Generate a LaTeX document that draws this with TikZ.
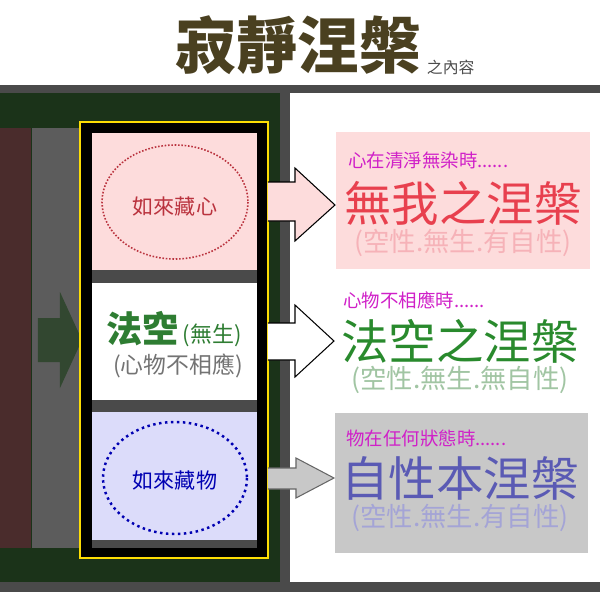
\documentclass[tikz,border=0pt]{standalone}
\usepackage{fontspec}
\newfontfamily\cjk{Noto Sans CJK TC}
\usetikzlibrary{positioning}
\definecolor{titlebrown}{HTML}{4A4020}
\definecolor{bandgray}{HTML}{4A4A4A}
\definecolor{darkgreen}{HTML}{1B3319}
\definecolor{brown}{HTML}{4A2C2C}
\definecolor{pinkbg}{HTML}{FDDCDC}
\definecolor{lavbg}{HTML}{DCDCFA}
\definecolor{boxgray}{HTML}{C8C8C8}
\definecolor{redtxt}{HTML}{E8404E}
\definecolor{greentxt}{HTML}{2E7D32}
\definecolor{bluetxt}{HTML}{5A5AB4}
\definecolor{magtxt}{HTML}{D020C8}
\tikzset{
  cjktext/.style={font=\cjk, inner sep=0pt},
  lead/.style={cjktext, font=\cjk\fontsize{10.5}{12}\selectfont, text=magtxt},
  big/.style={cjktext, font=\cjk\fontsize{27}{30}\selectfont},
  note/.style={cjktext, font=\cjk\fontsize{15}{17}\selectfont},
  block arrow/.style={draw=black, line width=0.6pt},
}
\begin{document}
\begin{tikzpicture}[x=0.02cm, y=-0.02cm]
  \useasboundingbox (0,0) rectangle (600,600);
  \fill[white] (0,0) rectangle (600,600);

  % Title
  \node[cjktext, font=\cjk\bfseries\fontsize{35}{38}\selectfont, text=titlebrown] (title) at (298,45) {寂靜涅槃};
  \node[cjktext, font=\cjk\fontsize{9}{10}\selectfont, text=black!70, anchor=south west] (sub) at ([xshift=3pt]title.south east) {之內容};

  % Background bands
  \fill[bandgray] (0,85) rectangle (600,592);
  \fill[darkgreen] (0,93) rectangle (280,582);
  \fill[white] (290,93) rectangle (600,582);
  \fill[bandgray!90] (32,128) rectangle (82,548);
  \fill[brown] (0,128) rectangle (31,548);
  \fill[darkgreen!90!white] (38,318) -- (60,318) -- (60,292) -- (82,340) -- (60,388) -- (60,362) -- (38,362) -- cycle;

  % Left column
  \draw[yellow!80!orange, line width=0.8pt, fill=black] (80,122) rectangle (268,558);
  \fill[bandgray] (92,133) rectangle (257,548);
  \fill[pinkbg] (92,133) rectangle (257,270);
  \fill[white] (92,283) rectangle (257,400);
  \fill[lavbg] (92,412) rectangle (257,540);

  \draw[redtxt!80!black, densely dotted, line width=0.9pt] (175,202) ellipse (73 and 57);
  \node[cjktext, font=\cjk\fontsize{12}{14}\selectfont, text=redtxt!80!black] (mind) at (175,206) {如來藏心};
  \node[cjktext, font=\cjk\bfseries\fontsize{20.5}{24}\selectfont, text=greentxt, anchor=base west] (fakong) at (106,342) {法空};
  \node[cjktext, font=\cjk\fontsize{12.5}{14}\selectfont, text=greentxt, anchor=base west] (wusheng) at (fakong.base east) {\,(無生)};
  \node[cjktext, font=\cjk\fontsize{13}{15}\selectfont, text=black!55] (xinwu) at (178,366) {(心物不相應)};
  \draw[blue!70!black, dotted, line width=1.4pt] (175,478) ellipse (72 and 56);
  \node[cjktext, font=\cjk\fontsize{12}{14}\selectfont, text=blue!70!black] (matter) at (175,480) {如來藏物};

  % Right boxes
  \fill[pinkbg] (336,132) rectangle (590,269);
  \fill[boxgray] (335,413) rectangle (588,553);

  \node[lead, anchor=west] (lead1) at (348,160) {心在清淨無染時......};
  \node[big, text=redtxt] (res1) at (463,203) {無我之涅槃};
  \node[note, text=redtxt!40] (par1) at (463,243) {(空性.無生.有自性)};
  \node[lead, anchor=west] (lead2) at (343,300) {心物不相應時......};
  \node[big, text=greentxt!90!green] (res2) at (460,341) {法空之涅槃};
  \node[note, text=greentxt!45] (par2) at (460,380) {(空性.無生.無自性)};
  \node[lead, anchor=west] (lead3) at (346,438) {物在任何狀態時......};
  \node[big, text=bluetxt] (res3) at (460,478) {自性本涅槃};
  \node[note, text=bluetxt!55] (par3) at (460,518) {(空性.無生.有自性)};

  % Block arrows
  \draw[block arrow, fill=pinkbg] (268,182) -- (295,182) -- (295,168) -- (335,205) -- (295,241) -- (295,221) -- (268,221);
  \draw[block arrow, fill=white] (268,323) -- (295,323) -- (295,305) -- (334,341) -- (295,377) -- (295,360) -- (268,360);
  \draw[block arrow, fill=boxgray, draw=black!60] (268,468) -- (296,468) -- (296,458) -- (334,478) -- (296,498) -- (296,489) -- (268,489);
\end{tikzpicture}
\end{document}
